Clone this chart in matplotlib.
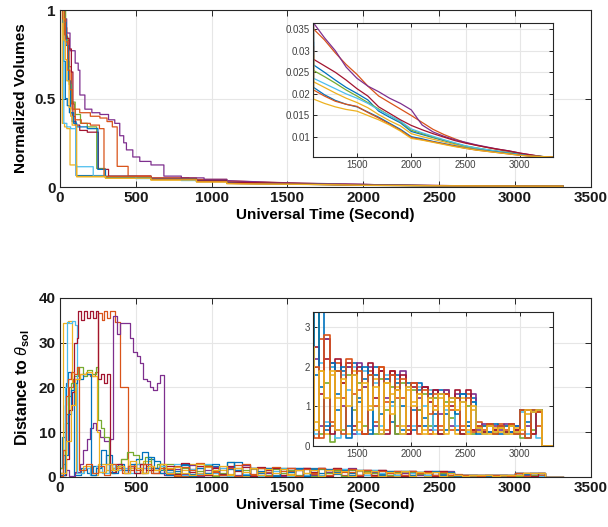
import numpy as np
import matplotlib
matplotlib.use('Agg')
import matplotlib.pyplot as plt
from matplotlib.ticker import FormatStrFormatter

plt.rcParams['font.family'] = ['Liberation Sans', 'DejaVu Sans']
plt.rcParams['mathtext.fontset'] = 'custom'
plt.rcParams['mathtext.rm'] = 'Liberation Sans'
plt.rcParams['mathtext.it'] = 'Liberation Sans:italic'
plt.rcParams['mathtext.bf'] = 'Liberation Sans:bold'

# MATLAB default line colours, cycled over the 10 runs
colors = ['#0072BD', '#D95319', '#EDB120', '#7E2F8E', '#77AC30', '#4DBEEE', '#A2142F',
          '#0072BD', '#D95319', '#EDB120']

t_end = 3316

# ---- normalized volumes: early breakpoints (s) and values ----
vol_head_t = [
    [0, 24, 35, 48, 62, 80, 106, 300, 600, 900],
    [0, 30, 45, 60, 75, 95, 130, 200, 263, 310, 345, 377, 449, 600, 850],
    [0, 15, 30, 45, 66, 110, 300, 600, 900],
    [0, 22, 44, 66, 100, 120, 131, 164, 210, 263, 320, 361, 394, 420, 438, 480, 526, 600, 685, 800, 950],
    [0, 37, 50, 60, 75, 100, 135, 180, 242, 297, 600, 900],
    [0, 25, 45, 70, 105, 219, 500, 800],
    [0, 30, 45, 60, 75, 85, 100, 130, 180, 253, 320, 600, 900],
    [0, 20, 40, 55, 70, 90, 110, 180, 250, 300, 600, 900],
    [0, 18, 35, 50, 65, 80, 100, 140, 200, 260, 290, 600, 900],
    [0, 25, 35, 45, 60, 70, 80, 110, 300, 600, 900],
]
vol_head_v = [
    [1, 0.71, 0.50, 0.46, 0.42, 0.37, 0.065, 0.055, 0.044, 0.034],
    [1, 0.90, 0.83, 0.68, 0.47, 0.44, 0.42, 0.40, 0.39, 0.37, 0.34, 0.117, 0.062, 0.052, 0.043],
    [1, 0.36, 0.34, 0.33, 0.125, 0.058, 0.050, 0.040, 0.030],
    [1, 0.95, 0.87, 0.77, 0.70, 0.66, 0.52, 0.44, 0.42, 0.41, 0.38, 0.36, 0.29, 0.25, 0.21, 0.17, 0.145, 0.125, 0.062, 0.052, 0.044],
    [1, 0.85, 0.71, 0.58, 0.48, 0.41, 0.36, 0.34, 0.105, 0.058, 0.046, 0.035],
    [1, 0.36, 0.34, 0.33, 0.115, 0.062, 0.048, 0.037],
    [1, 0.86, 0.84, 0.78, 0.65, 0.40, 0.35, 0.32, 0.31, 0.10, 0.062, 0.050, 0.038],
    [1, 0.93, 0.80, 0.60, 0.42, 0.36, 0.34, 0.33, 0.10, 0.058, 0.046, 0.032],
    [1, 0.95, 0.82, 0.66, 0.55, 0.44, 0.38, 0.36, 0.35, 0.33, 0.060, 0.045, 0.031],
    [1, 0.83, 0.72, 0.60, 0.45, 0.40, 0.35, 0.060, 0.050, 0.040, 0.029],
]
# late part, every 100 s from 1100 to 3300
vol_tail_t = np.arange(1100, 3301, 100)
vol_tail_v = [
    [.0267, .0250, .0232, .0215, .0201, .0186, .0160, .0146, .0133, .0113, .0106, .0099, .0092, .0085, .0079, .0074, .0070, .0067, .0064, .0060, .0057, .0055, .0054],
    [.0350, .0325, .0295, .0268, .0245, .0218, .0195, .0180, .0165, .0150, .0134, .0118, .0106, .0096, .0087, .0081, .0076, .0071, .0067, .0062, .0058, .0055, .0054],
    [.0228, .0215, .0202, .0190, .0180, .0168, .0152, .0138, .0126, .0108, .0101, .0095, .0089, .0083, .0077, .0073, .0069, .0066, .0063, .0059, .0057, .0055, .0054],
    [.0364, .0330, .0300, .0262, .0236, .0218, .0205, .0190, .0178, .0163, .0128, .0112, .0102, .0094, .0088, .0082, .0077, .0072, .0068, .0063, .0059, .0055, .0054],
    [.0254, .0240, .0225, .0209, .0195, .0180, .0165, .0150, .0136, .0116, .0108, .0100, .0093, .0086, .0079, .0075, .0071, .0067, .0064, .0060, .0057, .0055, .0054],
    [.0236, .0224, .0212, .0200, .0190, .0178, .0163, .0150, .0137, .0119, .0110, .0102, .0094, .0087, .0080, .0075, .0071, .0067, .0063, .0060, .0057, .0055, .0054],
    [.0280, .0265, .0250, .0232, .0212, .0195, .0170, .0155, .0140, .0127, .0117, .0108, .0100, .0092, .0086, .0081, .0076, .0072, .0068, .0063, .0059, .0055, .0054],
    [.0215, .0198, .0185, .0176, .0170, .0158, .0146, .0132, .0118, .0101, .0096, .0090, .0085, .0080, .0075, .0071, .0068, .0065, .0062, .0059, .0056, .0055, .0054],
    [.0209, .0195, .0183, .0176, .0171, .0157, .0144, .0130, .0116, .0099, .0094, .0089, .0084, .0079, .0074, .0070, .0067, .0064, .0061, .0058, .0056, .0055, .0054],
    [.0188, .0178, .0170, .0164, .0160, .0150, .0140, .0128, .0114, .0097, .0093, .0088, .0083, .0078, .0074, .0070, .0067, .0064, .0061, .0058, .0056, .0055, .0054],
]

# ---- distance to theta_sol: early breakpoints (s) and values ----
dist_head_t = [
    [0, 15, 30, 40, 55, 75, 95, 140, 180, 220, 260, 300, 340, 380, 420, 460, 500, 540, 580, 620, 660],
    [0, 20, 40, 60, 85, 130, 200, 230, 253, 275, 290, 310, 330, 362, 395, 451, 490, 530, 570, 610, 650],
    [0, 22, 50, 77, 105, 150, 200, 250, 300, 350, 400, 450, 500, 550, 600, 650],
    [0, 40, 60, 100, 132, 150, 175, 200, 219, 235, 263, 290, 329, 351, 373, 395, 440, 461, 483, 505, 527, 549, 571, 593, 615, 637, 659, 685],
    [0, 20, 35, 50, 70, 90, 120, 150, 180, 210, 240, 250, 270, 290, 322, 360, 400, 440, 480, 520, 560, 600, 640, 680],
    [0, 20, 30, 44, 60, 80, 99, 110, 160, 200, 240, 280, 320, 360, 400, 450, 500, 550, 600, 650],
    [0, 40, 60, 80, 95, 110, 119, 140, 155, 175, 195, 215, 235, 253, 270, 290, 310, 330, 370, 410, 450, 490, 530, 570, 610, 650],
    [0, 30, 55, 75, 90, 110, 150, 205, 240, 270, 300, 340, 380, 420, 460, 500, 540, 580, 620, 660],
    [0, 20, 40, 55, 70, 95, 110, 125, 170, 210, 250, 290, 330, 370, 410, 450, 500, 550, 600, 650],
    [0, 40, 70, 100, 130, 170, 210, 242, 260, 300, 340, 380, 420, 460, 500, 540, 580, 620, 660],
]
dist_head_v = [
    [2, 9, 16, 21, 23.5, 22, 0.5, 2, 0.8, 2.5, 1.2, 5, 2, 3, 1, 2.5, 4, 5.5, 4, 3.5, 1.5],
    [1, 5, 14, 20, 22, 23, 22.5, 23.5, 36.6, 35, 37, 35.5, 37, 34.7, 20.1, 1.5, 3, 1, 2.5, 0.8, 2],
    [2, 34.5, 34.8, 21, 1, 2.5, 0.5, 3, 1.5, 2, 4, 2, 1, 3.5, 1.5, 2.8],
    [0.5, 1.5, 0.3, 1.2, 3, 6, 8.5, 11, 12, 10.5, 9, 8, 8.5, 36, 32, 34.5, 34.5, 31, 28, 27, 25.5, 22, 21.5, 20, 19.5, 21, 22.8, 0.5],
    [2, 3, 12, 18, 21, 22.5, 24.5, 22.5, 24, 23, 24.5, 12.7, 11, 9, 1, 2.5, 4, 5.5, 5, 3, 4.5, 2, 3, 1.5],
    [1, 6, 20, 34.7, 34.3, 34.9, 34, 1, 2, 0.5, 2.5, 1, 3, 1.5, 2, 1, 3, 2, 1, 2.5],
    [0.5, 4, 15, 19, 30, 31, 37, 35, 37, 35.5, 37, 35.5, 37, 22, 23, 21, 23, 1.2, 3, 1.5, 2.5, 0.8, 3, 1.5, 2, 1],
    [0.5, 5, 14, 19.5, 21, 22, 23, 0.5, 2, 6, 3, 1, 2.5, 1.5, 3, 2, 1, 4.5, 2, 1],
    [0.3, 6, 18, 22, 23.5, 23, 24.5, 1.5, 3, 1, 2.5, 0.5, 3, 2, 1, 2.5, 1.5, 3, 1, 2],
    [1, 8, 16, 22, 23, 23.5, 22.5, 10, 1.2, 3, 1.5, 2.5, 1, 3.5, 2, 1, 2.5, 1.5, 3],
]
# late part, every 50 s from 700 to 3200
dist_tail_t = np.arange(700, 3201, 50)
dist_tail_v = [
    [1.5, 0.4, 2.8, 0.6, 1.9, 1.0, 2.4, 0.5,
     1.8, 3.4, 0.4, 2.0, 0.9, 1.9, 0.5, 2.1, 1.1, 1.7, 0.4, 2.0,
     0.8, 1.6, 0.6, 1.8, 1.0, 1.5, 0.4, 1.6, 0.7, 1.2, 0.5, 1.4, 0.8, 1.1, 0.4, 1.3,
     0.6, 1.2, 0.5, 0.35, 0.55, 0.3, 0.5, 0.35, 0.55, 0.3,
     0.9, 0.2, 0.85, 0.9, 0],
    [0.6, 2.5, 0.3, 1.8, 3.2, 0.5, 1.4, 2.0,
     0.2, 2.7, 2.7, 0.5, 2.1, 1.2, 2.0, 0.4, 1.4, 0.3, 1.9, 0.6,
     2.0, 1.1, 1.9, 0.5, 1.2, 0.3, 1.6, 0.9, 1.5, 0.3, 1.0, 0.5, 1.4, 0.4, 0.9, 0.5,
     1.3, 0.4, 0.6, 0.35, 0.5, 0.4, 0.55, 0.3, 0.5, 0.4,
     0.3, 0.9, 0.9, 0.5, 0],
    [2.0, 0.5, 1.5, 3.0, 0.8, 2.2, 0.4, 1.6,
     0.6, 1.9, 0.3, 1.8, 1.2, 1.6, 0.3, 1.9, 0.6, 1.5, 1.0, 1.7,
     0.4, 1.6, 1.3, 1.5, 0.5, 1.4, 1.1, 1.3, 0.4, 1.4, 0.3, 1.2, 1.0, 1.1, 0.3, 1.2,
     0.4, 0.9, 0.35, 0.5, 0.3, 0.45, 0.35, 0.5, 0.3, 0.45,
     0.9, 0.8, 0.3, 0.9, 0],
    [0.4, 1.8, 0.6, 2.6, 0.3, 1.5, 2.2, 0.5,
     2.2, 0.5, 2.7, 2.1, 0.4, 1.0, 2.0, 0.3, 2.1, 1.5, 2.0, 0.5,
     1.9, 1.2, 1.8, 0.3, 1.9, 0.5, 1.6, 1.2, 1.5, 0.4, 1.4, 0.8, 1.4, 0.5, 1.3, 0.4,
     0.5, 1.3, 0.4, 0.55, 0.35, 0.5, 0.4, 0.55, 0.35, 0.5,
     0.9, 0.5, 0.9, 0.85, 0],
    [3.0, 1.0, 2.0, 0.4, 1.3, 2.6, 0.3, 1.0,
     3.4, 0.3, 1.6, 0.1, 1.9, 0.4, 1.8, 0.9, 1.6, 0.5, 1.8, 0.3,
     1.7, 0.9, 1.5, 0.3, 1.6, 0.4, 1.4, 0.9, 1.3, 0.5, 1.2, 0.3, 1.1, 0.7, 1.2, 0.3,
     1.0, 0.3, 0.45, 0.35, 0.5, 0.3, 0.45, 0.35, 0.5, 0.3,
     0.2, 0.9, 0.4, 0.9, 0],
    [1.2, 2.9, 0.4, 1.7, 0.6, 3.0, 0.8, 2.1,
     0.3, 2.1, 0.6, 2.0, 0.2, 1.8, 1.4, 2.0, 0.3, 1.9, 0.4, 1.6,
     0.5, 1.8, 1.0, 1.7, 0.3, 1.5, 0.5, 1.5, 1.0, 1.4, 0.4, 1.3, 0.9, 1.2, 0.5, 1.1,
     0.35, 1.1, 0.5, 0.3, 0.55, 0.35, 0.5, 0.3, 0.55, 0.35,
     0.85, 0.3, 0.9, 0.2, 0],
    [2.4, 0.7, 3.1, 1.1, 2.5, 0.4, 1.9, 0.6,
     2.5, 1.3, 2.2, 0.3, 2.2, 1.6, 2.1, 0.5, 2.0, 0.3, 2.1, 1.2,
     1.9, 0.3, 1.9, 1.4, 1.8, 0.3, 1.5, 0.5, 1.5, 1.1, 1.4, 0.3, 1.3, 1.0, 1.4, 0.3,
     1.4, 0.4, 0.5, 0.35, 0.55, 0.4, 0.5, 0.35, 0.55, 0.4,
     0.9, 0.9, 0.3, 0.85, 0],
    [0.5, 1.4, 2.7, 0.3, 2.0, 1.0, 2.8, 0.4,
     3.4, 1.5, 0.5, 2.1, 1.3, 2.0, 0.2, 1.8, 1.2, 2.0, 0.3, 1.8,
     0.3, 1.7, 1.1, 1.6, 0.4, 1.6, 0.9, 1.4, 0.5, 1.3, 0.8, 1.3, 0.4, 1.2, 0.8, 1.3,
     0.5, 1.1, 0.3, 0.5, 0.35, 0.55, 0.3, 0.5, 0.35, 0.5,
     0.9, 0.6, 0.9, 0.9, 0],
    [1.8, 0.3, 2.2, 1.5, 0.5, 2.4, 1.2, 0.4,
     2.0, 0.2, 2.8, 0.6, 1.9, 0.3, 2.2, 1.3, 1.9, 0.3, 1.8, 1.0,
     2.0, 0.4, 1.8, 1.2, 1.7, 0.4, 1.6, 0.3, 1.4, 0.8, 1.3, 0.4, 1.3, 0.9, 1.2, 0.4,
     1.2, 0.35, 0.5, 0.4, 0.55, 0.3, 0.5, 0.4, 0.55, 0.3,
     0.9, 0.2, 0.9, 0.85, 0],
    [0.8, 2.2, 1.0, 0.4, 2.9, 0.6, 1.5, 2.5,
     0.4, 1.9, 1.2, 1.9, 0.4, 1.7, 1.0, 1.8, 0.4, 1.6, 0.9, 1.5,
     0.3, 1.6, 0.8, 1.4, 0.3, 1.5, 1.0, 1.3, 0.3, 1.2, 0.9, 1.3, 0.3, 1.2, 0.9, 1.1,
     0.3, 1.0, 0.45, 0.3, 0.5, 0.35, 0.45, 0.3, 0.5, 0.35,
     0.4, 0.9, 0.85, 0.9, 0],
]


def vol_line(head_t, head_v, tail_t, tail_v):
    # stairs for the early drops, straight segments for the slow tail
    ht = np.repeat(head_t, 2)[1:]
    hv = np.repeat(head_v, 2)[:-1]
    t = np.concatenate([ht, [tail_t[0]], tail_t, [t_end]])
    v = np.concatenate([hv, [hv[-1]], tail_v, [tail_v[-1]]])
    return t, v


def dist_line(head_t, head_v, tail_t, tail_v):
    t = np.concatenate([head_t, tail_t, [t_end]])
    v = np.concatenate([head_v, tail_v, [tail_v[-1]]])
    return t, v


def style(ax, main=True):
    ax.tick_params(direction='in', top=True, right=True, length=4 if main else 3,
                   width=0.7, color='#262626', labelsize=11 if main else 7,
                   labelcolor='#1a1a1a' if main else '#404040', pad=3 if main else 2)
    ax.grid(True, color='#e6e6e6', lw=0.8)
    ax.set_axisbelow(True)
    for s in ax.spines.values():
        s.set_color('#262626')
        s.set_linewidth(0.8)
    if main:
        for lab in ax.get_xticklabels() + ax.get_yticklabels():
            lab.set_fontweight('bold')


fig = plt.figure(figsize=(6.08, 5.27), dpi=100)
ax1 = fig.add_axes([0.0987, 0.645, 0.873, 0.336])
ax2 = fig.add_axes([0.0987, 0.0949, 0.873, 0.3397])
in1 = fig.add_axes([0.5148, 0.7021, 0.3947, 0.2543])
in2 = fig.add_axes([0.5148, 0.1537, 0.3947, 0.2543])

for i in range(10):
    t, v = vol_line(vol_head_t[i], vol_head_v[i], vol_tail_t, vol_tail_v[i])
    for ax in (ax1, in1):
        ax.plot(t, v, color=colors[i], lw=0.9)
    t, v = dist_line(dist_head_t[i], dist_head_v[i], dist_tail_t, dist_tail_v[i])
    ax2.step(t, v, where='post', color=colors[i], lw=0.9)
    in2.step(t, v, where='post', color=colors[i], lw=1.2)

xticks = [0, 500, 1000, 1500, 2000, 2500, 3000, 3500]
ax1.set_xlim(0, 3500)
ax1.set_ylim(0, 1)
ax1.set_xticks(xticks)
ax1.set_yticks([0, 0.5, 1])
ax1.yaxis.set_major_formatter(FormatStrFormatter('%g'))
ax1.set_xlabel('Universal Time (Second)', fontsize=11, fontweight='bold', labelpad=2)
ax1.set_ylabel('Normalized Volumes', fontsize=11, fontweight='bold', labelpad=5)

ax2.set_xlim(0, 3500)
ax2.set_ylim(0, 40)
ax2.set_xticks(xticks)
ax2.set_yticks([0, 10, 20, 30, 40])
ax2.set_xlabel('Universal Time (Second)', fontsize=11, fontweight='bold', labelpad=2)
ax2.set_ylabel(r'Distance to $\theta_{\mathbf{sol}}$', fontsize=11.5, fontweight='bold', labelpad=5)

in1.set_xlim(1095, 3305)
in1.set_ylim(0.0054, 0.0364)
in1.set_xticks([1500, 2000, 2500, 3000])
in1.set_yticks([0.01, 0.015, 0.02, 0.025, 0.03, 0.035])
in1.yaxis.set_major_formatter(FormatStrFormatter('%g'))

in2.set_xlim(1095, 3305)
in2.set_ylim(0, 3.38)
in2.set_xticks([1500, 2000, 2500, 3000])
in2.set_yticks([0, 1, 2, 3])

for ax in (ax1, ax2):
    style(ax, True)
for ax in (in1, in2):
    style(ax, False)

fig.savefig('out.png', dpi=100)
